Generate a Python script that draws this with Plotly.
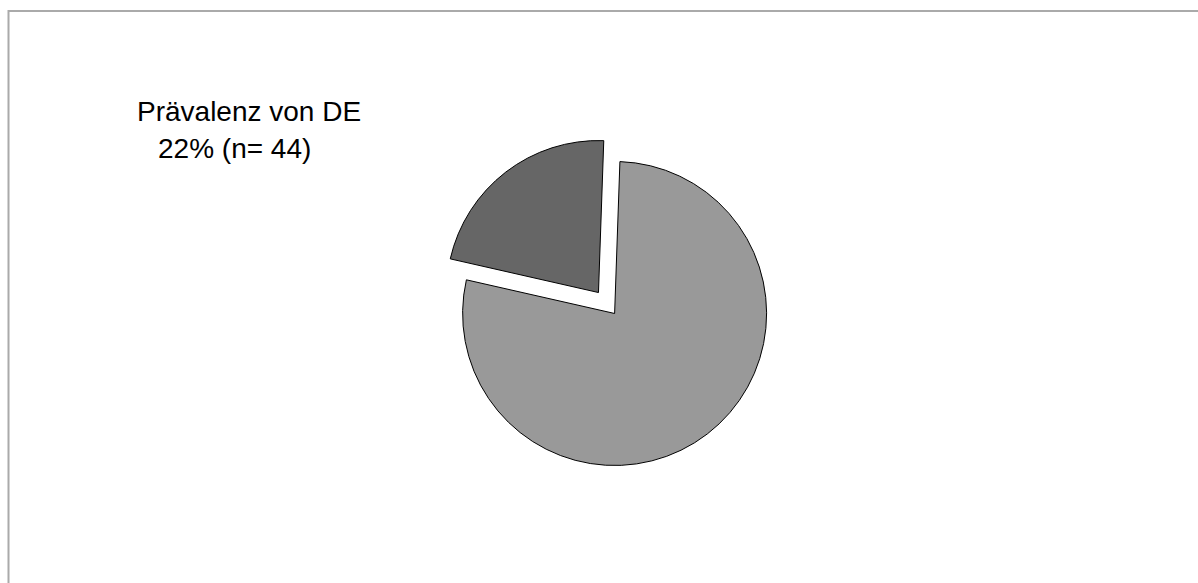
import plotly.graph_objects as go

# Prevalence split (n = 200)
labels = ["DE", "kein DE"]
counts = [44, 156]
colors = ["#666666", "#999999"]
pulls = [0.174, 0]

title_line1 = "Prävalenz von DE"
title_line2 = "22% (n= 44)"

W, H = 1198, 583

# First slice starts at `rotation` and runs clockwise; DE ends just past 12 o'clock
de_share_deg = 360 * counts[0] / sum(counts)

fig = go.Figure()
fig.add_trace(go.Pie(
    labels=labels,
    values=counts,
    sort=False,
    direction="clockwise",
    rotation=2 - de_share_deg,
    pull=pulls,
    marker=dict(colors=colors, line=dict(color="#000000", width=1)),
    textinfo="none",
    showlegend=False,
    domain=dict(x=[0.36407, 0.66199], y=[0.15618, 0.76835]),
))

font = dict(family="Liberation Sans, Arial, sans-serif", size=28, color="#000000")
fig.add_annotation(text=title_line1, x=249 / W, y=1 - 111 / H, xref="paper", yref="paper",
                   xanchor="center", yanchor="middle", showarrow=False, font=font)
fig.add_annotation(text=title_line2, x=234 / W, y=1 - 148 / H, xref="paper", yref="paper",
                   xanchor="center", yanchor="middle", showarrow=False, font=font)

# Frame lines along the top and left edges
frame = dict(color="#aaaaaa", width=2)
fig.add_shape(type="line", xref="paper", yref="paper",
              x0=8 / W, x1=1, y0=1 - 11 / H, y1=1 - 11 / H, line=frame)
fig.add_shape(type="line", xref="paper", yref="paper",
              x0=8.5 / W, x1=8.5 / W, y0=0, y1=1 - 10 / H, line=frame)

fig.update_layout(
    width=W, height=H,
    margin=dict(l=0, r=0, t=0, b=0),
    paper_bgcolor="#ffffff",
    plot_bgcolor="#ffffff",
)

fig.write_html("out.html")
